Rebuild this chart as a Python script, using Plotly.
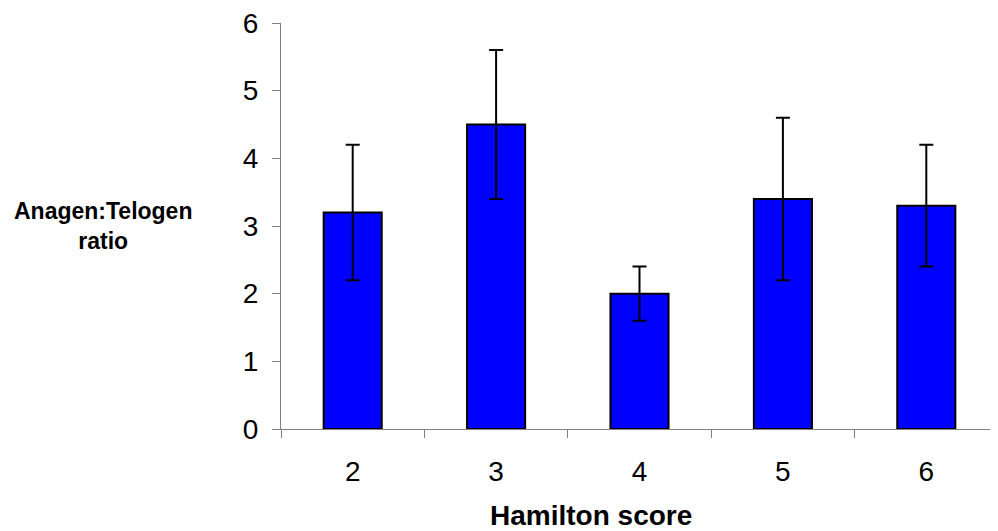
import plotly.graph_objects as go

# Hamilton score groups and anagen:telogen ratio (mean +/- error)
scores = ["2", "3", "4", "5", "6"]
ratio = [3.2, 4.5, 2.0, 3.4, 3.3]
err = [1.0, 1.1, 0.4, 1.2, 0.9]
y_ticks = [0, 1, 2, 3, 4, 5, 6]

# the page body has an 8px margin, so the figure is 8px smaller than the window
fig = go.Figure()
fig.add_trace(go.Bar(
    x=scores, y=ratio,
    marker=dict(color="#0000FF", line=dict(color="black", width=2)),
    error_y=dict(type="data", array=err, color="black", thickness=2, width=7),
    showlegend=False,
))

fig.update_layout(
    width=990, height=523,
    margin=dict(l=273, r=0, t=15, b=102),
    paper_bgcolor="white", plot_bgcolor="white",
    bargap=0.595,
    font=dict(family="Arial, Liberation Sans, sans-serif", color="black", size=28),
    xaxis=dict(showline=True, linecolor="#808080", linewidth=1,
               ticks="outside", tickcolor="#808080", ticklen=8,
               tickson="boundaries", ticklabelstandoff=17,
               tickfont=dict(size=28), showgrid=False),
    yaxis=dict(range=[0, 6], tickvals=y_ticks, showline=True,
               linecolor="#808080", linewidth=1, ticks="outside",
               tickcolor="#808080", ticklen=8, ticklabelstandoff=8,
               ticklabeloverflow="allow",
               tickfont=dict(size=28), showgrid=False, zeroline=False),
    annotations=[
        dict(text="<b>Hamilton score</b>", xref="paper", yref="paper",
             x=0.432, y=-0.212, xanchor="center", yanchor="middle",
             showarrow=False, font=dict(size=28)),
        dict(text="<b>Anagen:Telogen<br>ratio</b>", xref="paper", yref="paper",
             x=-0.248, y=0.5, xanchor="center", yanchor="middle",
             showarrow=False, font=dict(size=23)),
    ],
)

fig.write_html("out.html")
